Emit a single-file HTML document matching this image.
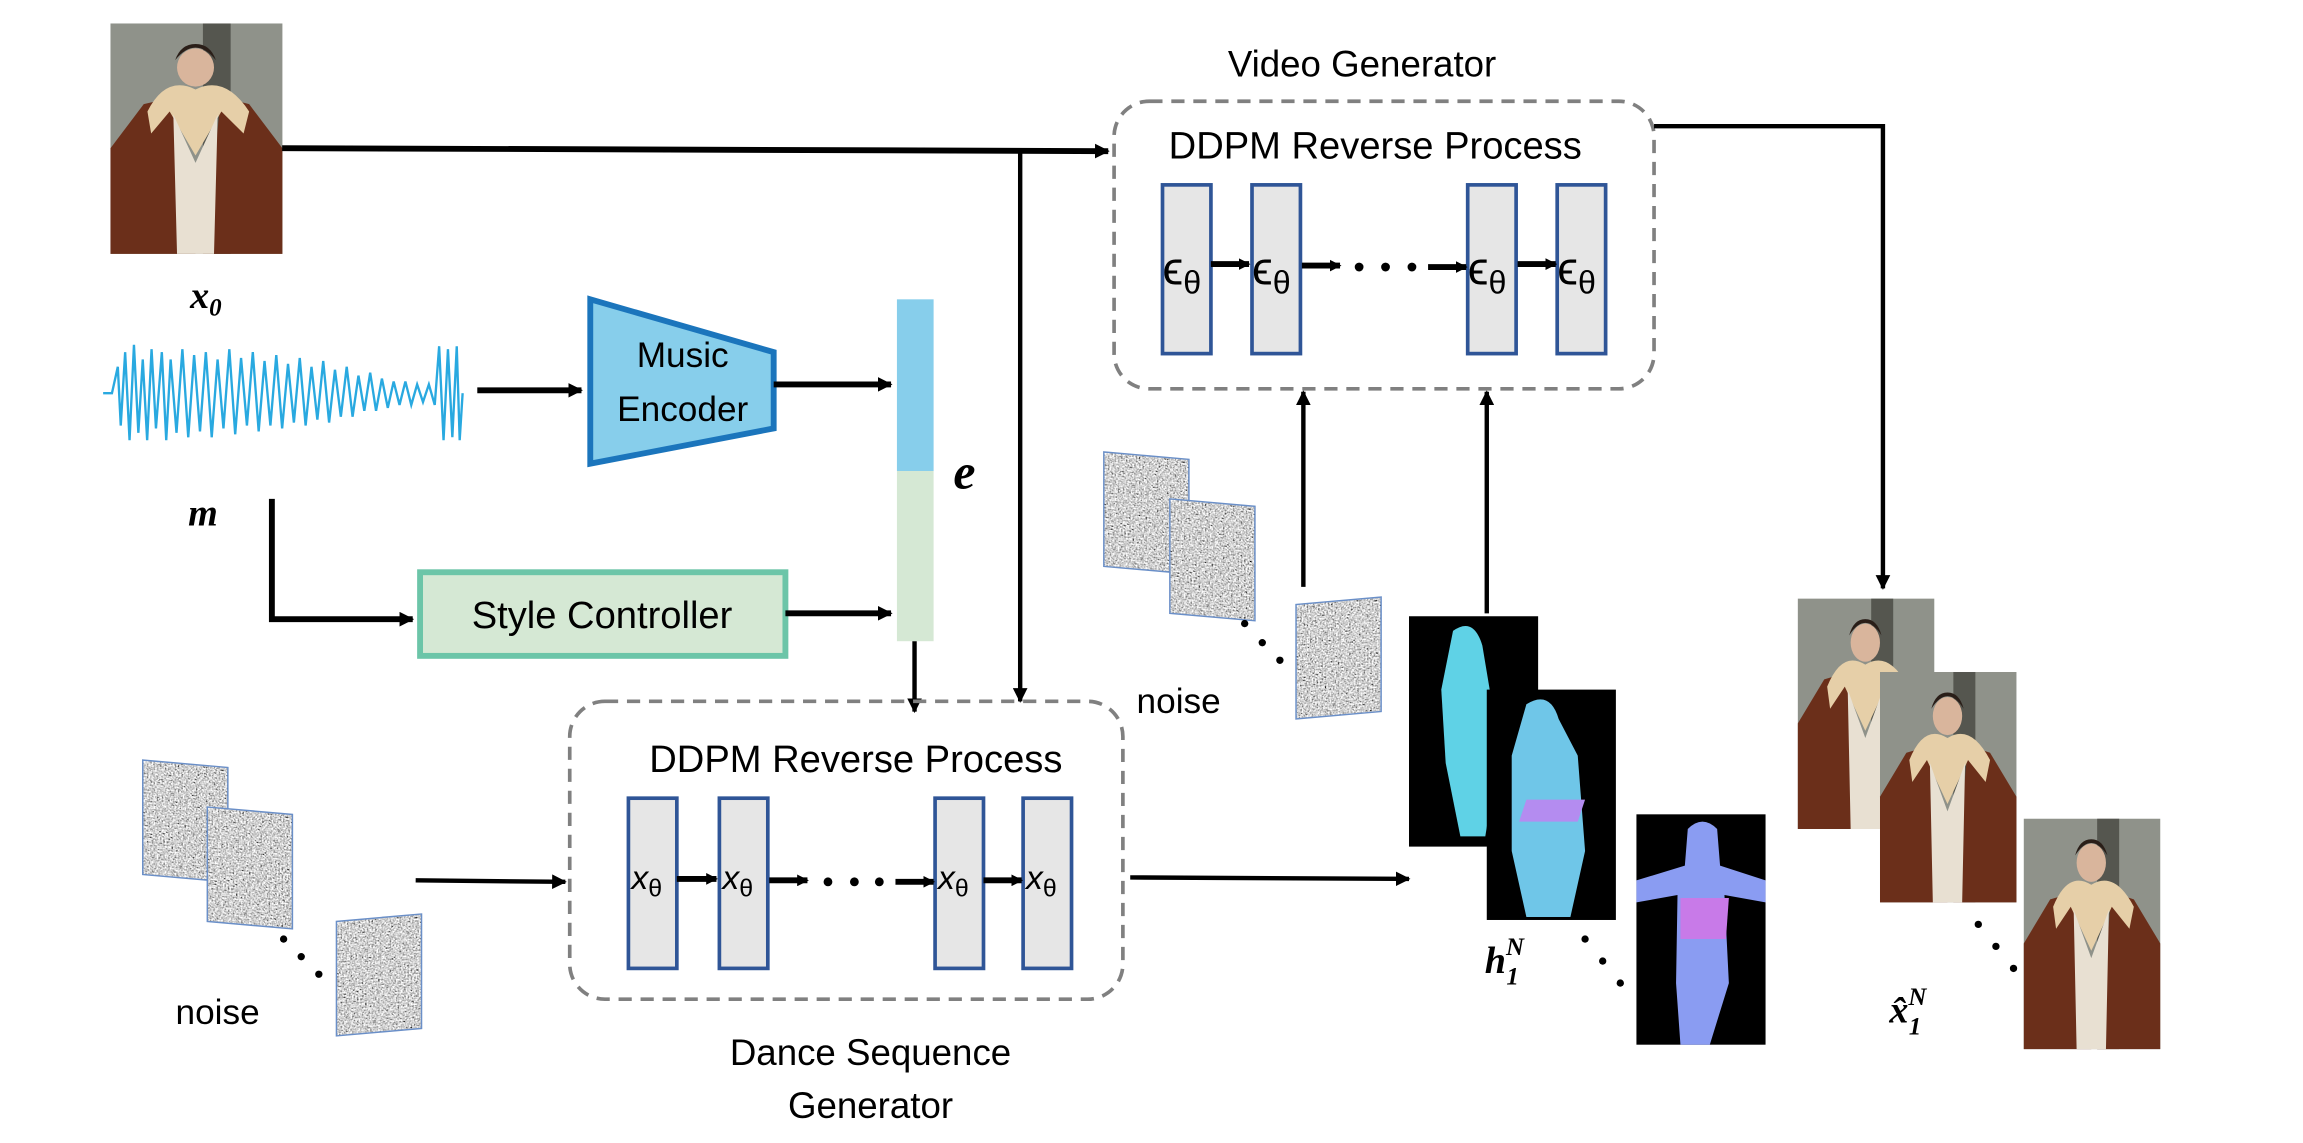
<!DOCTYPE html>
<html><head><meta charset="utf-8"><style>
html,body{margin:0;padding:0;background:#fff;}
svg{display:block;}
text{font-family:"Liberation Sans",sans-serif;}
.m{font-family:"Liberation Serif",serif;font-style:italic;font-weight:bold;}
</style></head><body>
<svg width="2303" height="1143" viewBox="0 0 1569 779" xmlns="http://www.w3.org/2000/svg">
<defs>
<marker id="ah" markerWidth="10" markerHeight="10" refX="9" refY="5" orient="auto" markerUnits="userSpaceOnUse" viewBox="0 0 10 10"><path d="M0,0 L10,5 L0,10 z" fill="#000"/></marker>
<marker id="as" markerWidth="8" markerHeight="8" refX="7" refY="4" orient="auto" markerUnits="userSpaceOnUse" viewBox="0 0 8 8"><path d="M0,0 L8,4 L0,8 z" fill="#000"/></marker>
<filter id="nz" x="0" y="0" width="100%" height="100%"><feTurbulence type="fractalNoise" baseFrequency="0.9" numOctaves="2" seed="3"/><feColorMatrix type="matrix" values="0.33 0.33 0.33 0 0 0.33 0.33 0.33 0 0 0.33 0.33 0.33 0 0 0 0 0 0 1"/><feComponentTransfer><feFuncR type="linear" slope="3.5" intercept="-1.1"/><feFuncG type="linear" slope="3.5" intercept="-1.1"/><feFuncB type="linear" slope="3.5" intercept="-1.1"/></feComponentTransfer></filter>
<g id="noise"><rect x="0" y="0" width="58" height="78" fill="#888" filter="url(#nz)"/><rect x="0" y="0" width="58" height="78" fill="none" stroke="#6a8fc8" stroke-width="1"/></g>
<g id="port">
<rect x="0" y="0" width="93" height="157" fill="#8f928a"/>
<rect x="50" y="0" width="15" height="157" fill="#55564f"/>
<path d="M0,85 L18,55 L35,50 L46,157 L0,157z" fill="#6b2f1a"/>
<path d="M93,85 L75,55 L60,50 L50,157 L93,157z" fill="#6b2f1a"/>
<path d="M20,60 Q30,35 46,45 Q62,35 75,60 L72,75 L60,60 L46,90 L32,60 L22,75z" fill="#e6cfa8"/>
<path d="M34,62 L46,95 L58,62 L56,157 L36,157z" fill="#e8e0d2"/>
<ellipse cx="46" cy="30" rx="10" ry="13" fill="#d9b59c"/>
<path d="M35,25 Q46,8 57,25 Q54,14 46,14 Q38,14 35,25z" fill="#2a1e18"/>
</g>
</defs>

<use href="#port" transform="translate(75,16) scale(1.26,1)"/>
<text x="140" y="210" class="m" font-size="26" text-anchor="middle">x<tspan font-size="17" dy="5">0</tspan></text>

<path d="M70,268 L76,268 L80,250 L82,290 L85,240 L88,300 L91,235 L94,295 L97,245 L100,300 L103,238 L106,292 L110,240 L113,300 L116,245 L120,295 L124,238 L128,298 L132,242 L136,294 L140,240 L144,298 L148,245 L152,292 L156,238 L160,296 L164,244 L168,290 L172,240 L176,294 L180,246 L184,290 L188,242 L192,292 L196,248 L200,288 L204,244 L208,290 L212,250 L216,286 L220,246 L224,288 L228,252 L232,284 L236,250 L240,284 L244,256 L248,280 L252,254 L256,280 L260,258 L264,278 L268,260 L272,276 L276,260 L280,276 L284,262 L288,274 L292,262 L296,276 L299,236 L302,300 L305,238 L308,298 L311,236 L313,300 L315,268" fill="none" stroke="#29a9e0" stroke-width="1.6"/>
<text x="138" y="358" class="m" font-size="26" text-anchor="middle">m</text>

<line x1="325" y1="266" x2="396" y2="266" stroke="#000" stroke-width="4" marker-end="url(#ah)"/>
<path d="M402,204 L527,240 L527,292 L402,316 z" fill="#87ceeb" stroke="#1b75bc" stroke-width="4"/>
<text x="465" y="250" font-size="24" text-anchor="middle">Music</text>
<text x="465" y="287" font-size="24" text-anchor="middle">Encoder</text>
<line x1="527" y1="262" x2="607" y2="262" stroke="#000" stroke-width="4" marker-end="url(#ah)"/>

<rect x="611" y="204" width="25" height="117" fill="#87ceeb"/>
<rect x="611" y="321" width="25" height="116" fill="#d5e8d4"/>
<text x="657" y="333" class="m" font-size="34" text-anchor="middle">e</text>

<polyline points="185,340 185,422 281,422" fill="none" stroke="#000" stroke-width="4" marker-end="url(#ah)"/>
<rect x="286" y="390" width="249" height="57" fill="#d5e8d4" stroke="#6cc5a8" stroke-width="4"/>
<text x="410" y="428" font-size="26" text-anchor="middle">Style Controller</text>
<line x1="535" y1="418" x2="607" y2="418" stroke="#000" stroke-width="4" marker-end="url(#ah)"/>
<line x1="623" y1="437" x2="623" y2="485" stroke="#000" stroke-width="3" marker-end="url(#ah)"/>

<line x1="192" y1="101" x2="755" y2="103" stroke="#000" stroke-width="4" marker-end="url(#ah)"/>
<line x1="695" y1="102" x2="695" y2="478" stroke="#000" stroke-width="3" marker-end="url(#ah)"/>

<text x="928" y="52" font-size="25" text-anchor="middle">Video Generator</text>
<rect x="759" y="69" width="368" height="196" rx="24" fill="none" stroke="#808080" stroke-width="2.5" stroke-dasharray="9,6"/>
<text x="937" y="108" font-size="26" text-anchor="middle">DDPM Reverse Process</text>
<g fill="#e6e6e6" stroke="#2f5597" stroke-width="2.5">
<rect x="792" y="126" width="33" height="115"/><rect x="853" y="126" width="33" height="115"/>
<rect x="1000" y="126" width="33" height="115"/><rect x="1061" y="126" width="33" height="115"/>
</g>
<g font-family="DejaVu Sans,sans-serif" font-size="32">
<text x="792" y="194">ϵ<tspan font-size="22" dy="6">θ</tspan></text>
<text x="853" y="194">ϵ<tspan font-size="22" dy="6">θ</tspan></text>
<text x="1000" y="194">ϵ<tspan font-size="22" dy="6">θ</tspan></text>
<text x="1061" y="194">ϵ<tspan font-size="22" dy="6">θ</tspan></text>
</g>
<g stroke="#000" stroke-width="4">
<line x1="825" y1="180" x2="851" y2="180" marker-end="url(#as)"/>
<line x1="887" y1="181" x2="913" y2="181" marker-end="url(#as)"/>
<line x1="973" y1="182" x2="999" y2="182" marker-end="url(#as)"/>
<line x1="1034" y1="180" x2="1060" y2="180" marker-end="url(#as)"/>
</g>
<g fill="#000"><circle cx="926" cy="182" r="3"/><circle cx="944" cy="182" r="3"/><circle cx="962" cy="182" r="3"/></g>
<polyline points="1127,86 1283,86 1283,401" fill="none" stroke="#000" stroke-width="3" marker-end="url(#ah)"/>

<use href="#noise" transform="translate(752,308) skewY(5)"/>
<use href="#noise" transform="translate(797,340) skewY(5)"/>
<g fill="#000"><circle cx="848" cy="425" r="2.5"/><circle cx="860" cy="438" r="2.5"/><circle cx="872" cy="450" r="2.5"/></g>
<use href="#noise" transform="translate(883,412) skewY(-5)"/>
<text x="803" y="486" font-size="24" text-anchor="middle">noise</text>
<line x1="888" y1="400" x2="888" y2="267" stroke="#000" stroke-width="3" marker-end="url(#ah)"/>
<line x1="1013" y1="418" x2="1013" y2="267" stroke="#000" stroke-width="3" marker-end="url(#ah)"/>

<rect x="388" y="478" width="377" height="203" rx="24" fill="none" stroke="#808080" stroke-width="2.5" stroke-dasharray="9,6"/>
<text x="583" y="526" font-size="26" text-anchor="middle">DDPM Reverse Process</text>
<g fill="#e6e6e6" stroke="#2f5597" stroke-width="2.5">
<rect x="428" y="544" width="33" height="116"/><rect x="490" y="544" width="33" height="116"/>
<rect x="637" y="544" width="33" height="116"/><rect x="697" y="544" width="33" height="116"/>
</g>
<g font-family="DejaVu Serif,serif" font-style="italic" font-size="23">
<text x="430" y="606">x<tspan font-size="17" dy="5" font-style="normal">θ</tspan></text>
<text x="492" y="606">x<tspan font-size="17" dy="5" font-style="normal">θ</tspan></text>
<text x="639" y="606">x<tspan font-size="17" dy="5" font-style="normal">θ</tspan></text>
<text x="699" y="606">x<tspan font-size="17" dy="5" font-style="normal">θ</tspan></text>
</g>
<g stroke="#000" stroke-width="4">
<line x1="461" y1="599" x2="488" y2="599" marker-end="url(#as)"/>
<line x1="524" y1="600" x2="550" y2="600" marker-end="url(#as)"/>
<line x1="610" y1="601" x2="636" y2="601" marker-end="url(#as)"/>
<line x1="670" y1="600" x2="696" y2="600" marker-end="url(#as)"/>
</g>
<g fill="#000"><circle cx="564" cy="601" r="3"/><circle cx="582" cy="601" r="3"/><circle cx="599" cy="601" r="3"/></g>
<text x="593" y="726" font-size="25" text-anchor="middle">Dance Sequence</text>
<text x="593" y="762" font-size="25" text-anchor="middle">Generator</text>
<line x1="283" y1="600" x2="385" y2="601" stroke="#000" stroke-width="3" marker-end="url(#ah)"/>
<line x1="770" y1="598" x2="960" y2="599" stroke="#000" stroke-width="3" marker-end="url(#ah)"/>

<use href="#noise" transform="translate(97,518) skewY(5)"/>
<use href="#noise" transform="translate(141,550) skewY(5)"/>
<g fill="#000"><circle cx="193" cy="640" r="2.5"/><circle cx="205" cy="652" r="2.5"/><circle cx="217" cy="664" r="2.5"/></g>
<use href="#noise" transform="translate(229,628) skewY(-5)"/>
<text x="148" y="698" font-size="24" text-anchor="middle">noise</text>

<g>
<rect x="960" y="420" width="88" height="157" fill="#000"/>
<path d="M990,430 Q1004,420 1010,440 L1015,470 L1020,520 L1012,570 L995,570 L985,520 L982,470z" fill="#5fd2e6"/>
<rect x="1013" y="470" width="88" height="157" fill="#000"/>
<path d="M1040,480 Q1056,470 1062,490 L1075,515 L1080,580 L1070,625 L1040,625 L1030,580 L1030,515z" fill="#6fc6e8"/>
<path d="M1040,545 L1080,545 L1075,560 L1035,560z" fill="#b48cf0"/>
<rect x="1115" y="555" width="88" height="157" fill="#000"/>
<path d="M1150,565 Q1160,555 1170,565 L1172,590 L1203,600 L1203,615 L1175,610 L1178,670 L1165,712 L1145,712 L1142,670 L1143,610 L1115,615 L1115,600 L1148,590z" fill="#8a9cf2"/>
<path d="M1145,612 L1178,612 L1176,640 L1145,640z" fill="#c87ae8"/>
</g>
<g fill="#000"><circle cx="1080" cy="640" r="2.5"/><circle cx="1092" cy="655" r="2.5"/><circle cx="1104" cy="670" r="2.5"/></g>
<text x="1025" y="663" class="m" font-size="26" text-anchor="middle">h<tspan font-size="17" dy="-12">N</tspan><tspan font-size="17" dx="-12" dy="20">1</tspan></text>

<use href="#port" transform="translate(1225,408)"/>
<use href="#port" transform="translate(1281,458)"/>
<g fill="#000"><circle cx="1348" cy="630" r="2.5"/><circle cx="1360" cy="645" r="2.5"/><circle cx="1372" cy="660" r="2.5"/></g>
<use href="#port" transform="translate(1379,558)"/>
<text x="1300" y="697" class="m" font-size="26" text-anchor="middle">x̂<tspan font-size="17" dy="-12">N</tspan><tspan font-size="17" dx="-12" dy="20">1</tspan></text>
</svg>
</body></html>
